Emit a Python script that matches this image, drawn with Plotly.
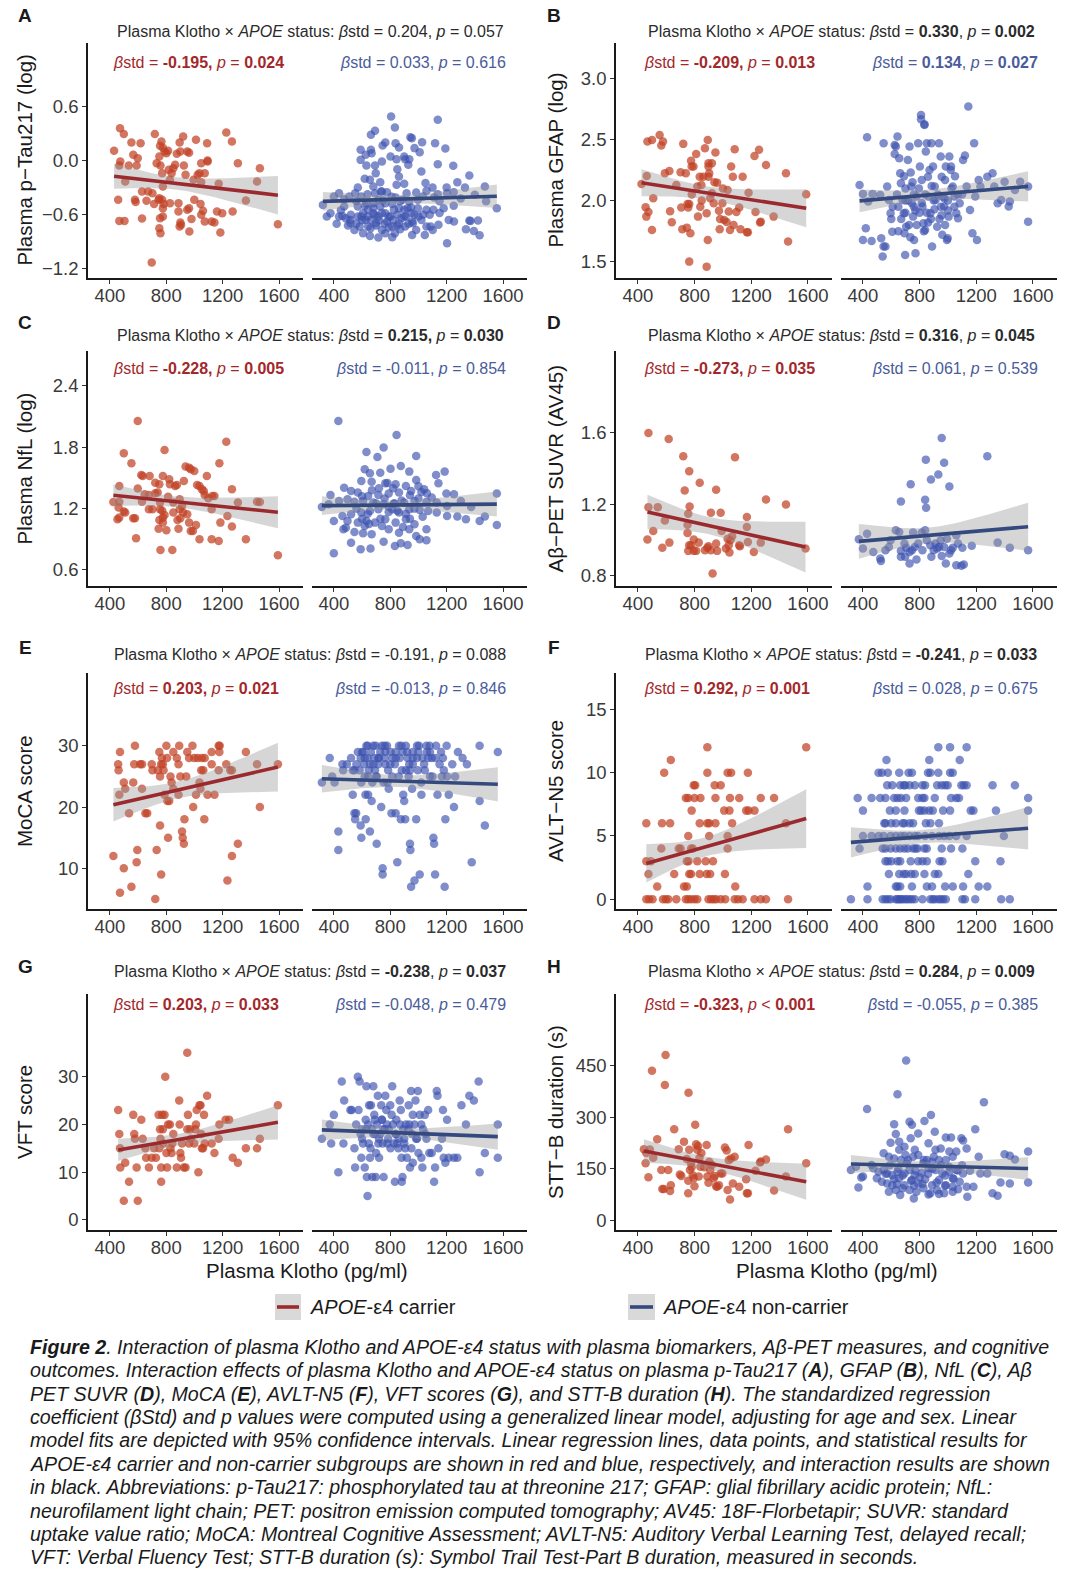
import numpy as np
import plotly.graph_objects as go

W, H = 1080, 1585
FONT = "Liberation Sans, Arial, Helvetica, sans-serif"

# ---------------- DATA (Klotho pg/ml, outcome) ----------------
A_CAR = [(430,0.107),(472,0.358),(499,0.292),(474,-0.011),(467,-0.055),(459,-0.435),(467,-0.668),(504,-0.668),(553,0.199),(566,0.063),(598,0.026),(590,-0.055),(618,0.192),(534,-0.055),(509,-0.232),(578,-0.435),(583,-0.458),(628,-0.343),(628,-0.642),(660,-0.446),(672,-0.343),(702,-0.362),(719,0.292),(732,-0.030),(751,0.044),(756,0.162),(766,0.210),(776,0.140),(788,0.100),(801,0.081),(813,0.107),(759,-0.055),(771,-0.140),(776,-0.288),(751,-0.417),(746,-0.435),(771,-0.435),(714,-0.480),(776,-0.620),(756,-0.638),(751,-0.749),(759,-0.804),(781,-0.480),(776,-0.528),(818,-0.103),(838,-0.140),(826,-0.214),(826,-0.472),(850,-0.085),(863,-0.048),(875,0.074),(895,0.199),(900,0.100),(920,0.266),(925,-0.055),(937,-0.159),(949,0.100),(962,0.085),(887,-0.472),(887,-0.565),(900,-0.686),(905,-0.712),(895,-0.731),(964,-0.786),(949,-0.546),(962,-0.528),(979,-0.646),(999,-0.435),(994,-0.214),(1011,0.229),(1023,-0.159),(1036,-0.140),(1048,-0.030),(1048,-0.240),(1073,-0.140),(1090,0.192),(1093,0.000),(1061,-0.557),(1048,-0.601),(1043,-0.480),(1073,-0.675),(1122,-0.675),(1142,-0.686),(1160,-0.565),(1172,-0.258),(1184,-0.797),(1197,-0.583),(1226,0.310),(1266,0.210),(1271,-0.565),(1308,-0.030),(1365,-0.443),(1444,-0.232),(1464,-0.085),(1592,-0.705),(697,-1.129),(1093,-0.011)]
A_NON = [(806,0.487),(1137,0.450),(833,0.365),(692,0.328),(663,0.284),(943,0.258),(953,0.247),(1118,0.192),(1026,0.203),(838,0.192),(765,0.199),(746,0.166),(590,0.118),(663,0.118),(862,0.144),(972,0.137),(1191,0.133),(1009,0.092),(626,0.063),(668,0.081),(802,0.044),(899,0.044),(935,0.015),(590,0.007),(741,-0.011),(845,0.015),(928,-0.048),(631,-0.055),(692,-0.055),(1137,-0.041),(1247,-0.059),(1021,-0.122),(697,-0.140),(850,-0.096),(906,0.015),(1361,-0.166),(1276,-0.240),(619,-0.203),(656,-0.214),(729,-0.240),(862,-0.177),(899,-0.258),(845,-0.269),(570,-0.299),(680,-0.288),(733,-0.343),(916,-0.362),(984,-0.354),(1057,-0.336),(1137,-0.373),(1203,-0.362),(1471,-0.288),(400,-0.399),(437,-0.362),(473,-0.428),(510,-0.399),(551,-0.362),(595,-0.399),(639,-0.373),(692,-0.362),(741,-0.343),(777,-0.351),(838,-0.410),(887,-0.435),(935,-0.454),(996,-0.435),(1033,-0.399),(1111,-0.410),(322,-0.491),(376,-0.583),(461,-0.613),(517,-0.657),(570,-0.509),(607,-0.583),(643,-0.546),(680,-0.472),(729,-0.509),(765,-0.583),(814,-0.480),(862,-0.528),(899,-0.546),(948,-0.520),(996,-0.528),(1057,-0.546),(1106,-0.546),(1179,-0.528),(1215,-0.657),(1252,-0.675),(1361,-0.664),(1422,-0.664),(1556,-0.528),(517,-0.694),(546,-0.768),(583,-0.731),(624,-0.657),(663,-0.657),(697,-0.694),(741,-0.768),(777,-0.675),(814,-0.731),(862,-0.694),(906,-0.731),(955,-0.675),(984,-0.768),(1021,-0.657),(1086,-0.731),(1101,-0.768),(1142,-0.712),(1045,-0.823),(955,-0.823),(870,-0.760),(833,-0.804),(814,-0.849),(656,-0.834),(716,-0.852),(765,-0.804),(1203,-0.915),(1337,-0.760),(1393,-0.779),(1434,-0.827),(1369,-0.668),(485,-0.638),(607,-0.804),(570,-0.620),(437,-0.620),(473,-0.509),(631,-0.472),(680,-0.583),(716,-0.620),(789,-0.620),(850,-0.601),(911,-0.620),(972,-0.601),(1033,-0.601),(643,-0.731),(595,-0.620),(716,-0.435),(765,-0.472),(826,-0.546),(923,-0.528),(1057,-0.731),(960,-0.694),
         (520,-0.60),(560,-0.70),(600,-0.66),(640,-0.62),(660,-0.75),(690,-0.60),(700,-0.72),(720,-0.66),(740,-0.58),(760,-0.70),(790,-0.74),(800,-0.62),(820,-0.66),(850,-0.72),(880,-0.64),(900,-0.62),(930,-0.70),(950,-0.58),(620,-0.50),(680,-0.52),(750,-0.44),(810,-0.40),(870,-0.45),(560,-0.45),(1000,-0.62),(1080,-0.60),(1150,-0.58),(1250,-0.50),
         (1250,-0.35),(1300,-0.42),(1330,-0.30),(1400,-0.38),(1480,-0.45),(1200,-0.30),(1150,-0.45),(1100,-0.30),(1050,-0.25),(350,-0.62),(420,-0.70),(450,-0.55),(500,-0.72)]

B_CAR = [(425,2.136),(462,2.202),(454,1.945),(467,2.483),(499,2.496),(553,2.537),(565,2.450),(577,2.483),(508,2.019),(499,1.760),(459,1.869),(474,1.907),(590,2.224),(622,2.243),(627,1.913),(639,1.823),(671,2.128),(720,2.464),(701,2.232),(706,1.943),(713,1.765),(738,2.224),(745,1.779),(755,1.943),(762,1.973),(750,1.973),(770,1.733),(762,1.501),(775,2.325),(779,2.278),(792,2.278),(811,2.382),(819,2.115),(824,1.869),(836,2.196),(848,2.128),(861,2.196),(873,2.428),(893,2.496),(898,2.305),(898,2.278),(898,2.196),(903,2.224),(885,1.896),(893,1.678),(885,1.460),(910,2.019),(922,2.305),(922,2.060),(935,1.978),(947,2.393),(959,2.147),(972,1.918),(977,1.765),(996,1.978),(1009,1.842),(1026,1.825),(1033,2.087),(1041,1.910),(1058,2.278),(1070,2.196),(1075,1.801),(1083,2.420),(1050,1.760),(1095,1.907),(1115,1.943),(1124,1.765),(1139,2.196),(1169,1.741),(1181,2.065),(1223,2.365),(1230,1.907),(1262,1.820),(1267,1.828),(1255,2.415),(1304,2.292),(1358,1.869),(1445,2.224),(1460,1.665),(1588,2.052),(1176,1.741),(780,2.05),(850,2.00),(940,2.15),(1000,2.10),(980,1.85),(840,1.95)]
B_NON = [(429,2.518),(376,2.128),(400,2.055),(437,1.992),(400,1.678),(420,1.774),(461,1.670),(468,2.055),(522,2.046),(529,1.692),(539,1.542),(546,1.624),(559,1.624),(571,2.115),(583,2.005),(595,1.896),(607,1.746),(624,2.382),(632,2.442),(644,2.524),(656,2.346),(663,2.224),(668,2.142),(680,2.005),(688,1.896),(693,1.733),(698,1.555),(705,1.787),(717,2.333),(729,2.442),(737,2.229),(741,2.115),(746,1.978),(754,1.869),(761,1.678),(771,1.569),(778,2.033),(790,2.469),(802,2.278),(810,2.665),(815,2.169),(820,1.951),(827,1.815),(834,2.624),(839,1.760),(844,2.401),(851,2.469),(859,2.196),(863,2.033),(876,1.896),(883,2.469),(888,1.624),(895,2.278),(907,2.115),(912,2.005),(924,1.787),(937,2.469),(949,2.360),(956,2.196),(961,2.033),(973,1.951),(980,2.169),(985,2.278),(993,1.678),(998,1.692),(1005,1.869),(1010,2.360),(1022,2.278),(1034,2.115),(1046,2.033),(1059,1.896),(1071,1.855),(1083,1.978),(1107,2.333),(1120,2.368),(1132,2.115),(1156,1.924),(1173,1.733),(1185,2.469),(1193,2.033),(1205,1.678),(1217,2.169),(1229,2.115),(1278,2.196),(1315,2.224),(1327,2.115),(1351,1.978),(1376,2.005),(1400,2.155),(1429,1.951),(1437,1.992),(1473,2.087),(1510,2.155),(1566,2.115),(1566,1.828),(1144,2.769),(810,2.701),(834,2.619),(546,2.469),(624,2.455),(650,1.95),(700,1.90),(720,2.00),(760,1.95),(800,1.90),(850,1.90),(900,2.00),(950,1.95),(1000,2.00),(700,2.10),(760,2.05),(880,1.85),(940,1.85),(600,1.85),(650,1.75),(780,1.80),(830,1.75),(980,1.80),(1050,2.20),(1100,2.05),
         (610,1.95),(640,2.05),(670,1.85),(700,2.00),(725,1.80),(750,2.15),(770,1.92),(795,2.10),(815,1.98),(840,2.05),(860,1.82),(885,2.12),(905,1.93),(930,2.05),(955,1.88),(975,2.02),(1000,1.92),(1025,2.10),(1045,1.95),(1070,2.05),(690,2.20),(735,1.70),(870,2.25),(960,1.72),(1020,2.25)]

C_CAR = [(598,2.058),(499,1.741),(553,1.643),(623,1.529),(633,1.520),(682,1.520),(722,1.454),(751,1.438),(776,1.520),(788,1.774),(821,1.487),(826,1.438),(467,1.422),(598,1.396),(647,1.340),(677,1.334),(467,1.268),(425,1.265),(462,1.210),(499,1.171),(467,1.112),(454,1.096),(509,1.161),(566,1.105),(578,1.105),(586,0.910),(628,1.268),(702,1.193),(722,1.350),(739,1.357),(756,1.259),(756,1.193),(771,1.180),(776,1.112),(751,1.089),(746,1.004),(776,1.063),(759,0.796),(843,0.796),(801,0.988),(813,1.317),(850,1.259),(863,1.422),(875,1.431),(895,1.193),(900,1.105),(880,1.089),(887,1.004),(895,1.291),(912,1.226),(925,1.471),(937,1.611),(962,1.601),(974,1.585),(999,1.568),(949,1.145),(962,1.063),(974,0.982),(989,0.982),(1011,1.040),(1019,1.431),(1036,1.422),(1053,1.389),(1066,1.373),(1073,1.334),(1088,1.520),(1098,1.301),(1122,1.193),(1127,1.324),(1142,1.324),(1036,0.900),(1122,0.900),(1172,0.884),(1177,1.643),(1184,1.063),(1226,1.855),(1266,1.389),(1266,1.024),(1234,1.128),(1308,1.259),(1365,0.900),(1444,1.268),(1464,1.265),(1592,0.744),(788,1.138),(850,1.161),(920,1.161),(677,1.193)]
C_NON = [(432,2.058),(845,1.921),(753,1.797),(631,1.754),(709,1.705),(984,1.715),(619,1.585),(656,1.546),(729,1.552),(802,1.591),(875,1.617),(935,1.562),(1125,1.529),(1186,1.562),(595,1.471),(668,1.464),(765,1.448),(838,1.438),(911,1.422),(984,1.480),(1040,1.389),(1142,1.448),(1198,1.347),(1252,1.340),(1556,1.347),(473,1.405),(376,1.334),(522,1.373),(570,1.357),(643,1.324),(716,1.334),(789,1.347),(862,1.357),(948,1.373),(1021,1.363),(1094,1.308),(1301,1.275),(315,1.216),(363,1.242),(437,1.275),(497,1.291),(546,1.268),(607,1.275),(680,1.259),(753,1.242),(826,1.249),(899,1.259),(972,1.275),(1057,1.268),(1130,1.259),(1203,1.226),(1374,1.216),(1471,1.122),(1434,1.079),(1337,1.096),(1276,1.122),(1203,1.128),(1130,1.161),(1069,1.177),(1009,1.187),(935,1.193),(862,1.161),(789,1.167),(716,1.193),(656,1.177),(595,1.161),(522,1.145),(461,1.128),(400,1.079),(497,1.079),(570,1.063),(631,1.079),(692,1.063),(765,1.096),(838,1.063),(911,1.096),(972,1.047),(1057,0.998),(984,0.933),(468,0.998),(546,0.972),(607,0.959),(668,0.949),(741,1.030),(789,0.998),(862,0.965),(935,0.998),(1009,0.900),(1057,0.890),(522,0.867),(590,0.802),(660,0.809),(753,0.877),(833,0.835),(875,0.861),(923,0.845),(400,0.763),(1556,1.040),(619,1.030),(814,1.193),(485,1.014),
         (560,1.20),(600,1.32),(640,1.15),(670,1.38),(700,1.25),(730,1.10),(760,1.30),(790,1.22),(820,1.40),(850,1.18),(880,1.28),(910,1.15),(940,1.33),(970,1.20),(1000,1.30),(1030,1.12),(1060,1.35),(650,1.05),(780,1.45),(890,1.02),(1000,1.42),(720,1.40),(940,1.10),(600,1.10),(830,1.25)]

D_CAR = [(474,1.596),(617,1.563),(720,1.467),(762,1.383),(836,1.319),(730,1.276),(765,1.187),(952,1.280),(915,1.152),(984,1.152),(474,1.183),(540,1.183),(467,1.002),(508,1.050),(572,0.956),(622,0.985),(590,1.109),(755,1.146),(750,1.085),(750,1.039),(762,0.970),(755,0.939),(775,0.970),(794,0.939),(811,0.939),(794,1.002),(829,0.985),(873,0.943),(890,0.957),(898,0.965),(915,0.943),(952,0.980),(959,0.939),(991,1.050),(1021,0.952),(1041,0.970),(1046,0.930),(1053,0.998),(1065,1.020),(1115,0.970),(1120,0.965),(1169,1.072),(1176,0.989),(1169,1.128),(1218,0.933),(1267,0.985),(1304,1.226),(1445,1.198),(1583,0.952),(1085,1.461),(927,0.813),(1033,1.007)]
D_NON = [(956,1.569),(844,1.448),(973,1.430),(1278,1.467),(932,1.365),(880,1.337),(1010,1.298),(737,1.311),(668,1.215),(839,1.224),(846,1.180),(371,1.004),(429,1.035),(400,0.952),(522,0.896),(527,0.883),(559,0.943),(595,0.998),(632,1.054),(656,1.044),(693,0.980),(698,0.906),(729,0.869),(746,0.943),(766,0.961),(778,0.891),(790,0.980),(815,1.041),(820,0.943),(839,1.054),(851,0.998),(876,0.970),(883,0.906),(900,0.943),(912,0.980),(924,0.952),(937,0.961),(949,0.998),(956,0.911),(973,0.961),(985,0.869),(993,1.007),(1010,0.924),(1022,0.943),(1034,0.957),(1059,0.859),(1071,0.980),(1095,0.856),(1112,0.863),(1102,0.957),(1168,0.967),(1059,1.026),(583,0.961),(473,0.933),(668,0.939),(729,0.933),(754,1.041),(1351,0.985),(1437,0.957),(1566,0.943),(668,0.906),(705,0.957)]

E_CAR = [(425,12),(459,27),(462,26),(472,29),(467,22),(472,6),(499,10),(499,24),(509,23),(536,19),(553,7),(566,24),(578,30),(590,11),(595,13),(573,27),(615,27),(628,27),(628,23),(652,19),(665,19),(697,27),(702,26),(722,5),(732,13),(741,26),(751,29),(756,25),(756,17),(764,27),(764,9),(769,28),(776,27),(781,26),(788,22),(801,30),(806,28),(808,21),(813,15),(821,21),(830,25),(838,24),(850,23),(850,29),(875,28),(887,27),(887,22),(892,30),(900,25),(912,16),(917,15),(925,14),(929,18),(942,25),(949,29),(962,28),(986,30),(999,28),(991,20),(1011,22),(1023,28),(1036,24),(1043,23),(1048,26),(1053,28),(1063,26),(1070,18),(1073,28),(1093,22),(1122,29),(1122,27),(1142,22),(1172,30),(1177,29),(1179,30),(1172,26),(1226,27),(1234,8),(1254,26),(1266,12),(1266,26),(1308,14),(1365,29),(1444,27),(1464,20),(1592,27)]
E_NON = [(315,24),(371,28),(388,25),(405,24),(461,27),(466,26),(492,27),(522,28),(534,26),(534,22),(546,19),(551,18),(558,19),(570,29),(583,26),(590,28),(595,24),(590,17),(595,15),(607,29),(614,27),(619,25),(624,22),(626,18),(631,30),(639,28),(643,22),(648,26),(656,16),(663,29),(668,21),(673,24),(680,30),(687,28),(692,26),(697,30),(704,25),(704,14),(716,27),(729,29),(736,20),(741,30),(746,10),(746,9),(753,24),(760,28),(765,27),(777,30),(785,26),(789,23),(802,29),(809,19),(814,25),(814,28),(833,27),(838,19),(850,11),(862,30),(867,28),(875,18),(882,26),(887,29),(892,22),(899,21),(906,18),(911,30),(923,28),(931,25),(935,27),(940,14),(943,13),(948,7),(955,23),(960,29),(972,8),(984,18),(989,28),(996,26),(1004,30),(1009,9),(1021,22),(1028,28),(1045,26),(1057,30),(1069,28),(1082,25),(1094,28),(1106,15),(1111,14),(1118,9),(1125,30),(1135,22),(1167,25),(1174,28),(1186,7),(1191,18),(1203,25),(1215,22),(1252,20),(1313,28),(1344,27),(1378,11),(1434,30),(1434,21),(1471,17),(1563,29),(432,16),(432,13),(546,26),(619,28),(656,27),(716,28),(838,29),(960,27),(1082,29),(911,26),(765,29),(643,25),
         (560,27),(600,29),(640,30),(680,27),(720,28),(760,30),(800,27),(840,28),(880,30),(920,29),(960,28),(1000,29),(1040,27),(1080,30),(1120,28),(1160,29),(1200,30),(1240,27),(1280,29),(700,25),(780,24),(860,25),(940,26),(1020,24),(1100,25),(1180,26),(1260,25),(990,30),(1150,27),(1060,29)]

# AVLT-N5: Klotho values grouped by integer score
F_CAR_BY_SCORE = {
    0: [459,479,503,577,597,614,671,738,755,775,799,819,898,917,935,952,984,1016,1083,1107,1139,1223,1267,1304,1460],
    1: [536,725,745,1087],
    2: [474,656,762,775,836,885,910,1014],
    3: [459,491,745,757,819,878,930],
    4: [565,688,701,775,787,1033],
    5: [755,903,1033],
    6: [459,570,627,836,890,903,947,1065,1445],
    7: [779,1009,1046,1164,1181,1223],
    8: [738,755,799,841,947,1050,1115,1267,1361],
    9: [794,804,942,984],
    10: [585,890,1033,1058,1176],
    11: [632],
    12: [890,1588],
}
F_NON_BY_SCORE = {
    0: [315,432,539,559,576,595,632,644,656,668,680,698,712,729,746,766,820,876,893,907,932,949,966,985,1102,1120,1193,1376,1437],
    1: [432,632,644,663,746,851,888,980,1034,1107,1217,1278],
    2: [583,656,688,705,741,766,834,907,932,1144],
    3: [559,576,600,644,663,737,790,820,851,941,961,1193,1371],
    4: [376,539,559,595,632,663,693,717,754,771,785,834,851,956,1022,1102],
    5: [400,461,510,546,595,632,668,693,729,766,790,839,888,937,973,1010,1059,1132,1395],
    6: [551,559,600,632,680,693,729,754,844,876,937],
    7: [400,590,632,693,795,810,834,868,893,966,1015,1161,1180,1339,1566],
    8: [363,461,522,559,620,644,668,705,790,820,834,907,1022,1059,1078,1566],
    9: [571,607,663,688,698,729,766,820,839,924,956,980,998,1095,1112,1132,1315,1473],
    10: [510,534,576,656,722,746,859,876,932,1015,1034],
    11: [566,868,1083],
    12: [932,1015,1132],
}

G_CAR = [(459,23),(467,18),(472,15),(474,11),(499,4),(509,12),(536,8),(566,22),(573,18),(578,17),(590,11),(598,4),(623,21),(633,17),(652,15),(657,13),(677,11),(697,13),(714,15),(727,13),(746,22),(751,15),(756,19),(759,17),(764,11),(764,8),(771,22),(776,19),(781,16),(788,22),(793,30),(801,14),(806,11),(813,20),(826,20),(830,15),(838,14),(843,16),(850,18),(875,11),(892,25),(895,20),(900,14),(905,13),(912,16),(925,11),(937,11),(949,35),(949,19),(954,22),(962,16),(969,19),(974,17),(999,16),(1006,19),(1011,20),(1016,23),(1028,10),(1036,24),(1043,24),(1048,18),(1053,15),(1061,15),(1068,22),(1073,16),(1090,26),(1122,16),(1142,14),(1172,17),(1177,20),(1221,21),(1246,21),(1271,13),(1308,12),(1365,15),(1444,15),(1464,17),(1592,24)]
G_NON = [(315,17),(371,20),(381,16),(400,22),(432,10),(456,29),(468,16),(473,25),(517,23),(527,23),(546,15),(551,11),(558,20),(570,30),(575,23),(583,29),(590,18),(595,13),(600,19),(607,16),(619,11),(626,21),(631,28),(634,9),(639,5),(643,20),(648,16),(656,13),(663,24),(668,19),(673,9),(680,28),(687,22),(692,18),(697,9),(704,20),(712,26),(716,16),(721,13),(729,18),(736,24),(741,21),(746,16),(753,9),(760,19),(765,26),(772,23),(777,20),(785,17),(789,19),(802,15),(814,28),(819,20),(826,16),(833,8),(838,18),(843,21),(850,16),(858,15),(867,25),(875,23),(882,8),(887,9),(892,19),(899,17),(906,15),(911,20),(918,13),(931,24),(935,20),(940,11),(948,27),(955,18),(960,12),(972,20),(979,25),(984,17),(996,27),(1009,22),(1021,13),(1028,11),(1033,19),(1045,22),(1057,17),(1069,23),(1077,14),(1094,14),(1111,8),(1118,11),(1130,27),(1135,26),(1142,15),(1167,17),(1174,23),(1179,13),(1191,12),(1203,21),(1215,13),(1252,13),(1276,13),(1305,24),(1337,20),(1361,26),(1393,25),(1427,29),(1434,10),(1471,14),(1563,20),(1563,13),
         (600,17),(630,19),(660,15),(690,21),(720,17),(750,19),(780,16),(810,22),(840,18),(870,20),(900,16),(930,19),(960,22),(990,17),(1020,20),(650,24),(700,14),(800,24),(880,13),(950,15),(1050,18),(740,21),(860,17),(680,18),(1000,14)]

H_CAR = [(442,207),(459,196),(474,125),(454,166),(484,206),(499,436),(508,182),(536,236),(565,146),(572,91),(582,91),(590,394),(595,482),(614,146),(627,85),(632,102),(656,265),(688,207),(696,133),(706,129),(725,229),(745,178),(755,115),(755,78),(757,372),(762,205),(767,146),(775,166),(779,154),(787,131),(794,122),(799,99),(804,278),(811,221),(819,205),(824,216),(829,127),(834,182),(841,156),(848,196),(868,154),(885,219),(890,127),(898,109),(903,170),(910,146),(922,161),(935,122),(942,129),(952,99),(959,97),(972,102),(984,136),(996,136),(1014,212),(1026,203),(1033,88),(1041,175),(1050,60),(1058,180),(1070,107),(1083,185),(1115,97),(1164,119),(1169,78),(1176,78),(1181,219),(1230,144),(1262,168),(1267,171),(1304,177),(1361,86),(1445,127),(1460,265),(1588,166)]
H_NON = [(429,324),(644,367),(705,466),(880,307),(1254,344),(620,280),(834,289),(729,287),(746,278),(790,253),(907,258),(1193,265),(632,251),(1095,239),(1107,232),(985,241),(1022,241),(737,239),(656,229),(595,226),(693,214),(766,205),(863,224),(912,205),(949,209),(1132,209),(1010,200),(656,205),(546,195),(583,185),(620,180),(668,175),(717,175),(754,185),(790,190),(827,166),(851,175),(888,170),(937,175),(985,175),(1034,185),(1059,200),(1217,185),(1400,192),(1437,188),(1473,177),(1566,200),(461,161),(315,146),(351,156),(400,127),(388,124),(473,151),(510,141),(546,146),(571,136),(607,131),(644,141),(693,136),(729,146),(766,131),(815,138),(863,151),(912,146),(961,136),(1010,141),(1059,146),(1107,136),(1156,144),(1229,136),(1278,136),(498,122),(534,112),(571,107),(607,102),(656,122),(693,102),(746,117),(790,107),(839,119),(888,102),(937,117),(985,102),(1034,122),(1083,112),(1132,97),(1180,97),(368,95),(583,83),(632,88),(680,93),(729,88),(778,83),(827,93),(876,78),(924,88),(973,78),(1034,97),(1071,90),(663,73),(759,63),(863,75),(937,76),(1137,68),(1315,78),(1351,71),(1371,110),(1437,107),(1566,110),(1034,83),
         (560,135),(590,160),(620,120),(650,150),(680,130),(710,165),(740,115),(770,145),(800,125),(830,175),(860,135),(890,150),(920,110),(950,160),(980,130),(1010,155),(1040,120),(1070,145),(700,190),(760,100),(820,105),(900,185),(980,100),(640,105),(1100,160)]

X_TICKS = [400, 800, 1200, 1600]


def rows_to_pairs(rows):
    return [(x, score) for score, xs in rows.items() for x in xs]


F_CAR = rows_to_pairs(F_CAR_BY_SCORE)
F_NON = rows_to_pairs(F_NON_BY_SCORE)

BS = '<i>β</i>std'
P = '<i>p</i>'

PANELS = [
    dict(label='A', car=A_CAR, non=A_NON, yr=(-1.30, 1.30), yt=[-1.2, -0.6, 0.0, 0.6],
         ytt=['−1.2', '−0.6', '0.0', '0.6'], title='Plasma p−Tau217 (log)',
         inter=f'{BS} = 0.204, {P} = 0.057',
         red=f'{BS} = <b>-0.195,</b> {P} = <b>0.024</b>',
         blue=f'{BS} = 0.033, {P} = 0.616'),
    dict(label='B', car=B_CAR, non=B_NON, yr=(1.367, 3.289), yt=[1.5, 2.0, 2.5, 3.0],
         ytt=['1.5', '2.0', '2.5', '3.0'], title='Plasma GFAP (log)',
         inter=f'{BS} = <b>0.330</b>, {P} = <b>0.002</b>',
         red=f'{BS} = <b>-0.209,</b> {P} = <b>0.013</b>',
         blue=f'{BS} = <b>0.134</b>, {P} = <b>0.027</b>'),
    dict(label='C', car=C_CAR, non=C_NON, yr=(0.443, 2.742), yt=[0.6, 1.2, 1.8, 2.4],
         ytt=['0.6', '1.2', '1.8', '2.4'], title='Plasma NfL (log)',
         inter=f'{BS} = <b>0.215,</b> {P} = <b>0.030</b>',
         red=f'{BS} = <b>-0.228,</b> {P} = <b>0.005</b>',
         blue=f'{BS} = -0.011, {P} = 0.854'),
    dict(label='D', car=D_CAR, non=D_NON, yr=(0.743, 2.054), yt=[0.8, 1.2, 1.6],
         ytt=['0.8', '1.2', '1.6'], title='Aβ−PET SUVR (AV45)',
         inter=f'{BS} = <b>0.316</b>, {P} = <b>0.045</b>',
         red=f'{BS} = <b>-0.273,</b> {P} = <b>0.035</b>',
         blue=f'{BS} = 0.061, {P} = 0.539'),
    dict(label='E', car=E_CAR, non=E_NON, yr=(3.35, 41.9), yt=[10, 20, 30],
         ytt=['10', '20', '30'], title='MoCA score',
         inter=f'{BS} = -0.191, {P} = 0.088',
         red=f'{BS} = <b>0.203,</b> {P} = <b>0.021</b>',
         blue=f'{BS} = -0.013, {P} = 0.846'),
    dict(label='F', car=F_CAR, non=F_NON, yr=(-0.77, 17.87), yt=[0, 5, 10, 15],
         ytt=['0', '5', '10', '15'], title='AVLT−N5 score',
         inter=f'{BS} = <b>-0.241</b>, {P} = <b>0.033</b>',
         red=f'{BS} = <b>0.292,</b> {P} = <b>0.001</b>',
         blue=f'{BS} = 0.028, {P} = 0.675'),
    dict(label='G', car=G_CAR, non=G_NON, yr=(-2.1, 47.3), yt=[0, 10, 20, 30],
         ytt=['0', '10', '20', '30'], title='VFT score',
         inter=f'{BS} = <b>-0.238</b>, {P} = <b>0.037</b>',
         red=f'{BS} = <b>0.203,</b> {P} = <b>0.033</b>',
         blue=f'{BS} = -0.048, {P} = 0.479'),
    dict(label='H', car=H_CAR, non=H_NON, yr=(-29, 660), yt=[0, 150, 300, 450],
         ytt=['0', '150', '300', '450'], title='STT−B duration (s)',
         inter=f'{BS} = <b>0.284</b>, {P} = <b>0.009</b>',
         red=f'{BS} = <b>-0.323,</b> {P} &lt; <b>0.001</b>',
         blue=f'{BS} = -0.055, {P} = 0.385'),
]

CAPTION = [
    '<b>Figure 2</b>. Interaction of plasma Klotho and APOE-ε4 status with plasma biomarkers, Aβ-PET measures, and cognitive',
    'outcomes. Interaction effects of plasma Klotho and APOE-ε4 status on plasma p-Tau217 (<b>A</b>), GFAP (<b>B</b>), NfL (<b>C</b>), Aβ',
    'PET SUVR (<b>D</b>), MoCA (<b>E</b>), AVLT-N5 (<b>F</b>), VFT scores (<b>G</b>), and STT-B duration (<b>H</b>). The standardized regression',
    'coefficient (βStd) and p values were computed using a generalized linear model, adjusting for age and sex. Linear',
    'model fits are depicted with 95% confidence intervals. Linear regression lines, data points, and statistical results for',
    'APOE-ε4 carrier and non-carrier subgroups are shown in red and blue, respectively, and interaction results are shown',
    'in black. Abbreviations: p-Tau217: phosphorylated tau at threonine 217; GFAP: glial fibrillary acidic protein; NfL:',
    'neurofilament light chain; PET: positron emission computed tomography; AV45: 18F-Florbetapir; SUVR: standard',
    'uptake value ratio; MoCA: Montreal Cognitive Assessment; AVLT-N5: Auditory Verbal Learning Test, delayed recall;',
    'VFT: Verbal Fluency Test; STT-B duration (s): Symbol Trail Test-Part B duration, measured in seconds.',
]

# ---------------- STYLE / LAYOUT ----------------
RED_PT = 'rgba(193,65,38,0.72)'
BLUE_PT = 'rgba(60,82,175,0.66)'
RED_LN = '#9B2A2E'
BLUE_LN = '#34497E'
RED_TX = '#A3282B'
BLUE_TX = '#4A5C9B'
BAND = 'rgba(153,153,153,0.40)'
X_RANGE = [245, 1770]

COLS = [((88, 303), (312, 527)), ((616, 832), (841, 1057))]
ROWS = [(43, 278), (351, 586), (673, 909), (994, 1230)]
LABEL_Y = [16, 323, 647, 967]
INTER_Y = [31, 335, 654, 971]
BETA_Y = [63, 368, 689, 1004]
LABEL_X = [25, 554]
YTITLE_X = [24, 555]
INTER_X = [310, 841]
RED_X = [111, 642]
BLUE_X = [508, 1040]


def px(x):
    return x / W


def py(y):
    return 1 - y / H


def fit_band(pairs, n=80):
    x = np.array([p[0] for p in pairs], float)
    y = np.array([p[1] for p in pairs], float)
    b, a = np.polyfit(x, y, 1)
    xs = np.linspace(x.min(), x.max(), n)
    yhat = a + b * xs
    resid = y - (a + b * x)
    df = len(x) - 2
    s = np.sqrt((resid ** 2).sum() / df)
    sxx = ((x - x.mean()) ** 2).sum()
    se = s * np.sqrt(1.0 / len(x) + (xs - x.mean()) ** 2 / sxx)
    z = 1.959964
    t = z + (z ** 3 + z) / (4 * df) + (5 * z ** 5 + 16 * z ** 3 + 3 * z) / (96 * df ** 2)
    return xs, yhat, yhat - t * se, yhat + t * se


fig = go.Figure()
layout = dict(width=W, height=H, margin=dict(l=0, r=0, t=0, b=0),
              paper_bgcolor='white', plot_bgcolor='white', showlegend=False,
              font=dict(family=FONT, color='#222222'))
annotations = []
shapes = []

for pi, pn in enumerate(PANELS):
    r, c = pi // 2, pi % 2
    ytop, ybot = ROWS[r]
    for f, (grp, ptc, lnc) in enumerate([(pn['car'], RED_PT, RED_LN), (pn['non'], BLUE_PT, BLUE_LN)]):
        k = pi * 2 + f + 1
        xa = 'x' if k == 1 else f'x{k}'
        ya = 'y' if k == 1 else f'y{k}'
        x0, x1 = COLS[c][f]
        layout['xaxis' if k == 1 else f'xaxis{k}'] = dict(
            domain=[px(x0), px(x1)], range=X_RANGE, anchor=ya,
            tickvals=X_TICKS, ticktext=[str(v) for v in X_TICKS],
            ticks='outside', ticklen=4, tickwidth=1.2, tickcolor='#333333',
            ticklabelstandoff=-4,
            showline=True, linewidth=1.6, linecolor='#1a1a1a',
            showgrid=False, zeroline=False,
            tickfont=dict(size=18.5, color='#3a3a3a', family=FONT))
        ydict = dict(domain=[py(ybot), py(ytop)], range=list(pn['yr']), anchor=xa,
                     showgrid=False, zeroline=False)
        if f == 0:
            ydict.update(tickvals=pn['yt'], ticktext=pn['ytt'], ticks='outside', ticklen=4,
                         tickwidth=1.2, tickcolor='#333333', showline=True, linewidth=1.6,
                         linecolor='#1a1a1a',
                         tickfont=dict(size=18.5, color='#3a3a3a', family=FONT))
        else:
            ydict.update(visible=False)
        layout['yaxis' if k == 1 else f'yaxis{k}'] = ydict

        gx = [p[0] for p in grp]
        gy = [p[1] for p in grp]
        fig.add_trace(go.Scatter(x=gx, y=gy, mode='markers', xaxis=xa, yaxis=ya,
                                 marker=dict(size=8.5, color=ptc, line=dict(width=0)),
                                 hoverinfo='skip'))
        xs, yhat, lo, hi = fit_band(grp)
        fig.add_trace(go.Scatter(x=np.concatenate([xs, xs[::-1]]), y=np.concatenate([hi, lo[::-1]]),
                                 mode='lines', fill='toself', fillcolor=BAND, line=dict(width=0),
                                 xaxis=xa, yaxis=ya, hoverinfo='skip'))
        fig.add_trace(go.Scatter(x=xs, y=yhat, mode='lines', line=dict(color=lnc, width=3.6),
                                 xaxis=xa, yaxis=ya, hoverinfo='skip'))

    # texts
    annotations.append(dict(x=px(LABEL_X[c]), y=py(LABEL_Y[r]), xref='paper', yref='paper',
                            text=f"<b>{pn['label']}</b>", showarrow=False, xanchor='center', yanchor='middle',
                            font=dict(size=19, color='#1a1a1a', family=FONT)))
    annotations.append(dict(x=px(INTER_X[c]), y=py(INTER_Y[r]), xref='paper', yref='paper',
                            text='Plasma Klotho × <i>APOE</i> status: ' + pn['inter'],
                            showarrow=False, xanchor='center', yanchor='middle',
                            font=dict(size=16, color='#2b2b2b', family=FONT)))
    annotations.append(dict(x=px(RED_X[c]), y=py(BETA_Y[r]), xref='paper', yref='paper',
                            text=pn['red'], showarrow=False, xanchor='left', yanchor='middle',
                            font=dict(size=16, color=RED_TX, family=FONT)))
    annotations.append(dict(x=px(BLUE_X[c]), y=py(BETA_Y[r]), xref='paper', yref='paper',
                            text=pn['blue'], showarrow=False, xanchor='right', yanchor='middle',
                            font=dict(size=16, color=BLUE_TX, family=FONT)))
    annotations.append(dict(x=px(YTITLE_X[c]), y=py((ytop + ybot) / 2), xref='paper', yref='paper',
                            text=pn['title'], showarrow=False, textangle=-90,
                            xanchor='center', yanchor='middle',
                            font=dict(size=20.5, color='#1a1a1a', family=FONT)))

# x axis titles
for cx in [307, 837]:
    annotations.append(dict(x=px(cx), y=py(1270), xref='paper', yref='paper',
                            text='Plasma Klotho (pg/ml)', showarrow=False,
                            xanchor='center', yanchor='middle',
                            font=dict(size=20.5, color='#1a1a1a', family=FONT)))

# legend
for (kx0, kx1, col, txt_x, label) in [(275, 301, RED_LN, 308, '<i>APOE</i>-ε4 carrier'),
                                       (628, 655, BLUE_LN, 661, '<i>APOE</i>-ε4 non-carrier')]:
    shapes.append(dict(type='rect', xref='paper', yref='paper', x0=px(kx0), x1=px(kx1),
                       y0=py(1320), y1=py(1294), fillcolor='#D9D9D9', line=dict(width=0)))
    shapes.append(dict(type='line', xref='paper', yref='paper', x0=px(kx0 + 2), x1=px(kx1 - 2),
                       y0=py(1307), y1=py(1307), line=dict(color=col, width=3.6)))
    annotations.append(dict(x=px(txt_x), y=py(1307), xref='paper', yref='paper', text=label,
                            showarrow=False, xanchor='left', yanchor='middle',
                            font=dict(size=20, color='#1a1a1a', family=FONT)))

# caption
for i, line in enumerate(CAPTION):
    annotations.append(dict(x=px(28), y=py(1346.7 + 23.4 * i), xref='paper', yref='paper',
                            text=f'<i>{line}</i>', showarrow=False, xanchor='left', yanchor='middle',
                            font=dict(size=19.6, color='#1a1a1a', family=FONT)))

layout['annotations'] = annotations
layout['shapes'] = shapes
fig.update_layout(**layout)
fig.write_html('out.html')
